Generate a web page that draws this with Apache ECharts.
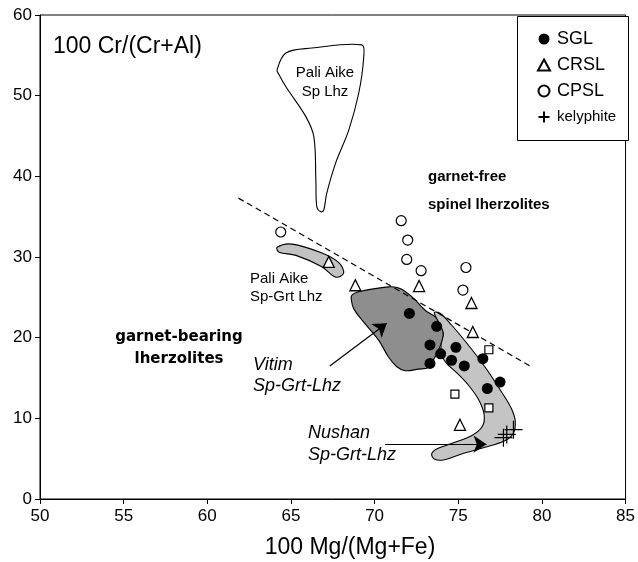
<!DOCTYPE html>
<html>
<head>
<meta charset="utf-8">
<script src="https://cdn.jsdelivr.net/npm/echarts@6/dist/echarts.min.js"></script>
<style>
  html, body { margin: 0; padding: 0; background: #fff; }
  #chart { width: 638px; height: 562px; }
</style>
</head>
<body>
<div id="chart"></div>
<script>
// 轴刻度
const xTicks = [50, 55, 60, 65, 70, 75, 80, 85];
const yTicks = [0, 10, 20, 30, 40, 50, 60];

// 散点数据 [Mg#, Cr#]
const sglPts = [[72.08, 23.0], [73.71, 21.4], [73.31, 19.1], [74.86, 18.8], [73.95, 18.0], [74.6, 17.2],
    [73.31, 16.8], [75.36, 16.5], [76.47, 17.4], [77.5, 14.5], [76.74, 13.7]];
const crslPts = [[67.26, 29.4], [68.85, 26.5], [72.66, 26.4], [75.79, 24.3], [75.87, 20.7], [75.1, 9.2]];
const cpslPts = [[64.39, 33.1], [71.59, 34.5], [71.98, 32.1], [71.92, 29.7], [72.78, 28.3], [75.46, 28.7], [75.28, 25.9]];
const squarePts = [[76.83, 18.5], [74.8, 13.0], [76.83, 11.3]];
const kelyPts = [[78.3, 8.6], [77.9, 8.0], [77.7, 7.6]];

// 区域轮廓
const paliSpLhz = [[64.17, 53.2], [64.7, 55.3], [66.25, 55.9], [69.23, 56.3], [69.35, 54.8], [69.05, 50.3],
    [68.45, 45.7], [67.68, 41.7], [67.14, 37.9], [66.96, 35.8], [66.79, 35.6], [66.55, 36.2], [66.49, 39.5],
    [66.37, 44.9], [65.89, 47.4], [64.7, 51.1], [64.29, 52.6]];
const paliSpGrt = [[64.17, 31.2], [65.06, 31.6], [66.85, 30.5], [67.86, 29.3], [68.15, 28.0], [67.68, 27.5],
    [66.85, 28.8], [65.3, 30.2], [64.29, 30.6]];
const vitim = [[68.65, 25.3], [69.05, 25.7], [70.83, 26.3], [71.53, 26.1], [72.32, 24.9], [73.02, 23.4],
    [73.61, 22.6], [74.01, 21.6], [74.11, 20.3], [73.91, 18.9], [73.61, 17.6], [73.21, 16.3], [72.62, 16.1],
    [71.83, 15.9], [71.33, 16.4], [70.83, 17.6], [70.24, 19.7], [69.24, 22.2], [68.75, 23.6], [68.61, 24.7]];
const nushan = [[73.57, 23.1], [73.91, 23.02], [74.6, 21.57], [75.6, 19.09], [76.59, 16.4], [77.58, 13.3],
    [78.17, 11.24], [78.41, 9.58], [78.27, 8.06], [77.78, 7.23], [76.59, 6.41], [75.2, 5.58], [74.11, 4.84],
    [73.57, 4.96], [73.41, 5.58], [73.71, 6.2], [74.8, 7.03], [75.79, 7.85], [76.43, 8.96], [76.55, 10.41],
    [76.23, 12.27], [75.6, 14.13], [74.9, 15.66], [74.3, 16.82], [74.01, 17.85], [73.97, 19.09], [74.11, 20.54],
    [73.81, 21.98]];

// 分界虚线和箭头
const divideLine = [[61.86, 37.3], [79.36, 16.4]];
const vitimArrow = [[67.32, 16.5], [70.73, 21.8]];
const nushanArrow = [[70.63, 6.8], [76.69, 6.8]];

const FONT = 'Liberation Sans, Arial, sans-serif';

function polygonSeries(name, pts, fill) {
    return {
        type: 'custom',
        name: name,
        coordinateSystem: 'cartesian2d',
        silent: true,
        clip: false,
        data: pts,
        z: 2,
        renderItem: function (params, api) {
            if (params.dataIndex !== 0) return;
            const points = pts.map(p => api.coord(p));
            return {
                type: 'polygon',
                shape: {points: points, smooth: 0.35},
                style: {fill: fill, stroke: '#000', lineWidth: 1.1}
            };
        }
    };
}

function txt(x, y, text, font, align) {
    return {
        type: 'text', x: x, y: y, z: 10, silent: true,
        style: {
            text: text, font: font, fill: '#000',
            align: align || 'left', textAlign: align || 'left',
            verticalAlign: 'middle', textVerticalAlign: 'middle'
        }
    };
}

const myChart = echarts.init(document.getElementById('chart'), null, {renderer: 'canvas'});

const axisCommon = {
    type: 'value',
    axisLine: {show: true, onZero: false, lineStyle: {color: '#000', width: 1}},
    axisTick: {show: true, inside: false, length: 5, lineStyle: {color: '#000', width: 1}},
    splitLine: {show: false},
    axisLabel: {color: '#000', fontSize: 17, fontFamily: FONT}
};

const option = {
    animation: false,
    backgroundColor: '#fff',
    grid: {left: 40, right: 10, top: 15, bottom: 63, show: true, borderColor: '#000', borderWidth: 1},
    xAxis: Object.assign({}, axisCommon, {
        min: xTicks[0], max: xTicks[xTicks.length - 1], interval: 5,
        axisLabel: Object.assign({}, axisCommon.axisLabel, {margin: 9})
    }),
    yAxis: Object.assign({}, axisCommon, {
        min: yTicks[0], max: yTicks[yTicks.length - 1], interval: 10,
        axisLabel: Object.assign({}, axisCommon.axisLabel, {margin: 8})
    }),
    legend: {
        orient: 'vertical',
        left: 531,
        top: 25,
        itemWidth: 12,
        itemHeight: 11,
        itemGap: 8,
        textStyle: {color: '#000', fontSize: 18, fontFamily: FONT, lineHeight: 18, padding: [0, 0, 0, 2]},
        data: [
            {name: 'SGL'},
            {name: 'CRSL'},
            {name: 'CPSL'},
            {name: 'kelyphite', textStyle: {fontSize: 15}}
        ]
    },
    graphic: [
        {type: 'rect', left: 517, top: 16, z: 3, silent: true,
            shape: {width: 111, height: 124}, style: {fill: '#fff', stroke: '#000', lineWidth: 1}},
        txt(53, 47, '100 Cr/(Cr+Al)', '23px ' + FONT),
        txt(350, 548, '100 Mg/(Mg+Fe)', '23px ' + FONT, 'center'),
        txt(325, 73, 'Pali Aike', '15px ' + FONT, 'center'),
        txt(325, 92, 'Sp Lhz', '15px ' + FONT, 'center'),
        txt(250, 279, 'Pali Aike', '15px ' + FONT),
        txt(250, 297, 'Sp-Grt Lhz', '15px ' + FONT),
        txt(428, 177, 'garnet-free', 'bold 15px ' + FONT),
        txt(428, 205, 'spinel lherzolites', 'bold 15px ' + FONT),
        txt(179, 337, 'garnet-bearing', 'bold 15px DejaVu Sans', 'center'),
        txt(179, 359, 'lherzolites', 'bold 15px DejaVu Sans', 'center'),
        txt(253, 365, 'Vitim', 'italic 18px ' + FONT),
        txt(253, 386, 'Sp-Grt-Lhz', 'italic 18px ' + FONT),
        txt(308, 433, 'Nushan', 'italic 18px ' + FONT),
        txt(308, 455, 'Sp-Grt-Lhz', 'italic 18px ' + FONT)
    ],
    series: [
        polygonSeries('paliSpLhz', paliSpLhz, '#fff'),
        polygonSeries('paliSpGrt', paliSpGrt, '#c2c2c2'),
        polygonSeries('vitim', vitim, '#8e8e8e'),
        polygonSeries('nushan', nushan, '#c4c4c4'),
        {
            type: 'line', name: 'divide', data: divideLine, showSymbol: false, silent: true, z: 3,
            lineStyle: {color: '#000', width: 1.2, type: [6, 4]}
        },
        {
            type: 'lines', coordinateSystem: 'cartesian2d', silent: true, z: 3,
            symbol: ['none', 'arrow'], symbolSize: [9, 13],
            lineStyle: {color: '#000', width: 1.2, opacity: 1},
            data: [{coords: vitimArrow}, {coords: nushanArrow}]
        },
        {
            type: 'scatter', name: 'SGL', data: sglPts, symbol: 'circle', symbolSize: 11, z: 5,
            itemStyle: {color: '#000', opacity: 1}
        },
        {
            type: 'scatter', name: 'CRSL', data: crslPts, symbol: 'triangle', symbolSize: 11, z: 5,
            itemStyle: {color: '#fff', borderColor: '#000', borderWidth: 1.3, opacity: 1}
        },
        {
            type: 'scatter', name: 'CPSL', data: cpslPts, symbol: 'circle', symbolSize: 10, z: 5,
            itemStyle: {color: '#fff', borderColor: '#000', borderWidth: 1.2, opacity: 1}
        },
        {
            type: 'scatter', name: 'square', data: squarePts, symbol: 'rect', symbolSize: 8, z: 5,
            itemStyle: {color: '#fff', borderColor: '#000', borderWidth: 1.2, opacity: 1}
        },
        {
            type: 'scatter', name: 'kelyphite', data: kelyPts, z: 5,
            symbol: 'path://M0 10 L20 10 M10 0 L10 20', symbolSize: 18,
            itemStyle: {color: 'none', borderColor: '#000', borderWidth: 1.2, opacity: 1}
        }
    ]
};

myChart.setOption(option);
</script>
</body>
</html>
